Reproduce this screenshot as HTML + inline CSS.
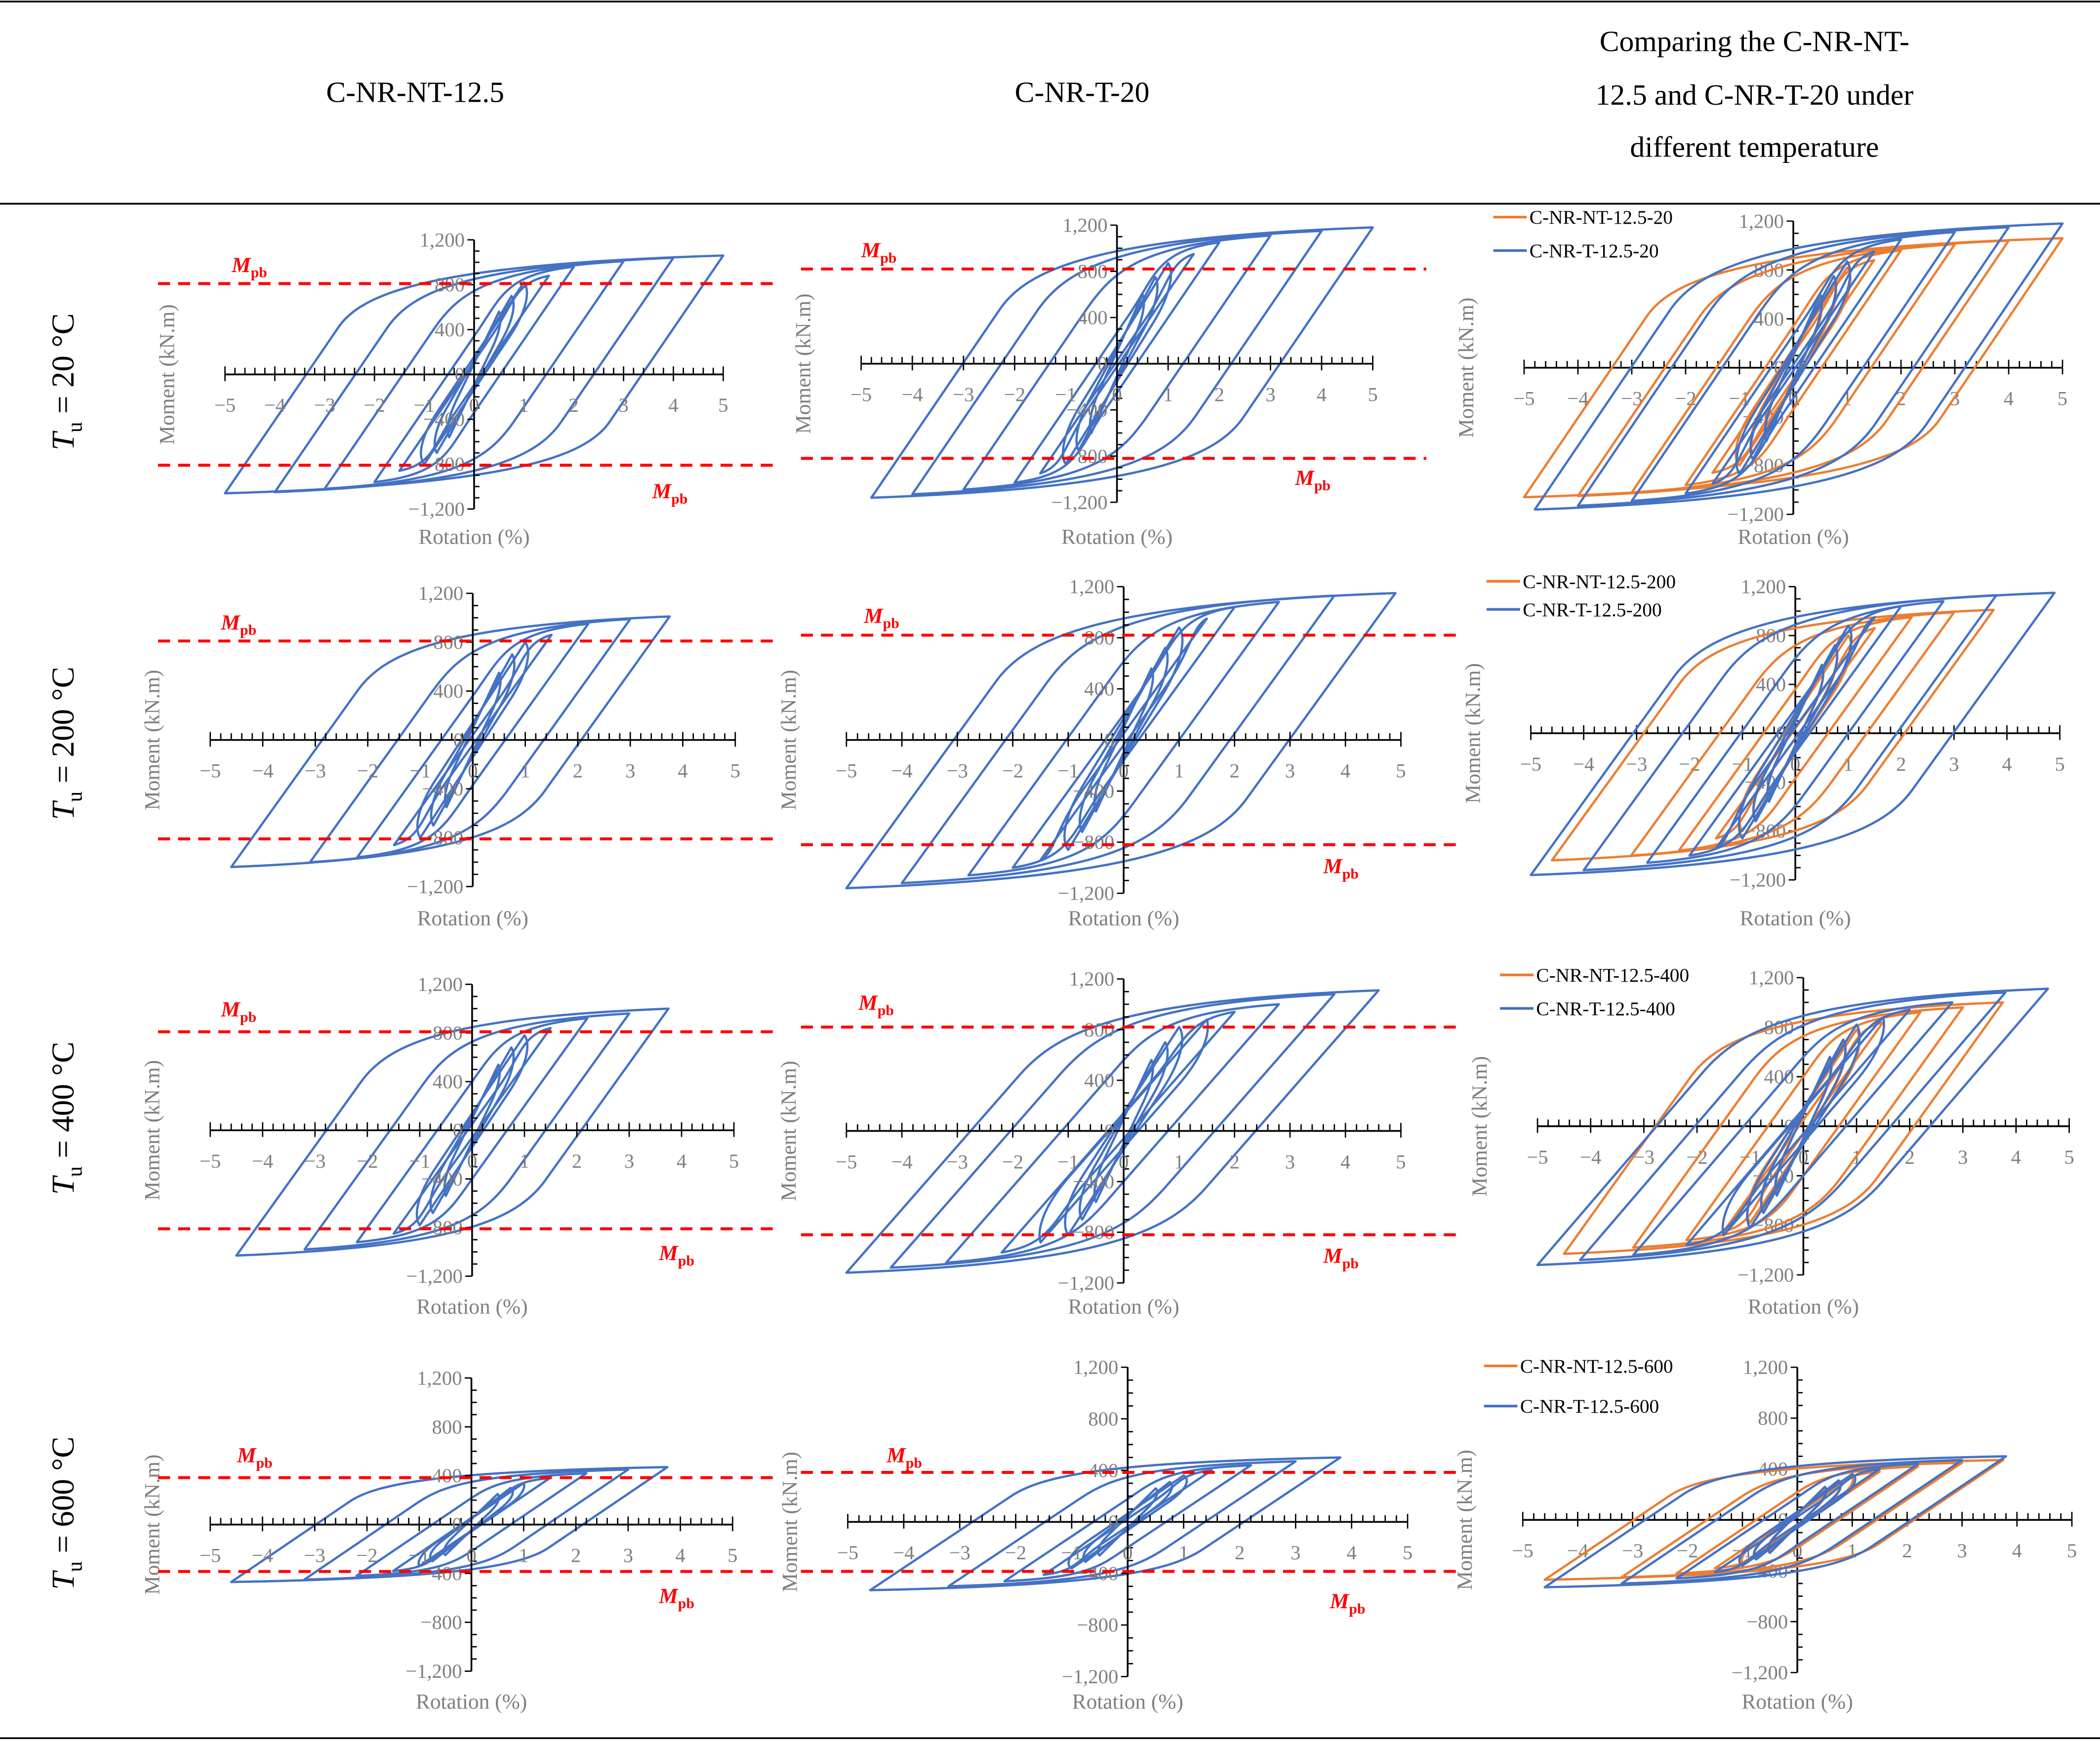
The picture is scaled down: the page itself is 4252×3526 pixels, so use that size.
<!DOCTYPE html>
<html><head><meta charset="utf-8"><title>Hysteresis comparison</title>
<style>
html,body{margin:0;padding:0;background:#fff;}
svg{display:block;}
svg text{font-family:"Liberation Serif",serif;}
</style></head>
<body>
<svg id="fig" xmlns="http://www.w3.org/2000/svg" width="4252" height="3526" viewBox="0 0 1568 1300" font-family="Liberation Serif, serif">
<rect x="0" y="0" width="1568" height="1300" fill="#fff"/>
<line x1="0" y1="1" x2="1568" y2="1" stroke="#000" stroke-width="1.3"/>
<line x1="0" y1="152" x2="1568" y2="152" stroke="#000" stroke-width="1.3"/>
<line x1="0" y1="1298" x2="1568" y2="1298" stroke="#000" stroke-width="1.3"/>
<text x="310" y="76" font-size="22" font-family="Liberation Serif, serif" text-anchor="middle">C-NR-NT-12.5</text>
<text x="808" y="76" font-size="22" font-family="Liberation Serif, serif" text-anchor="middle">C-NR-T-20</text>
<g font-family="Liberation Serif, serif">
<text x="1310" y="38" font-size="22" text-anchor="middle">Comparing the C-NR-NT-</text>
<text x="1310" y="78" font-size="22" text-anchor="middle">12.5 and C-NR-T-20 under</text>
<text x="1310" y="117" font-size="22" text-anchor="middle">different temperature</text>
</g>
<g id="rows"></g>
<g id="panels"></g>
</svg>
<script>
// ---- data (rotation %, moment kN.m) ----
const nt20AmpPos=[0.5,0.75,1,1.5,2,3,4,5];
const nt20Pos=[560,700,820,880,960,1010,1040,1060];
const nt20AmpNeg=[-0.5,-0.75,-1,-1.5,-2,-3,-4,-5];
const nt20Neg=[-560,-700,-800,-860,-960,-1020,-1050,-1060];
const t20AmpPos=[0.5,0.75,1,1.5,2,3,4,5];
const t20Pos=[600,750,870,950,1050,1110,1150,1180];
const t20AmpNeg=[-0.5,-0.75,-1,-1.5,-2,-3,-4,-4.8];
const t20Neg=[-600,-750,-870,-950,-1030,-1090,-1130,-1160];
const nt200AmpPos=[0.5,0.75,1,1.5,2.2,3,3.75];
const nt200Pos=[550,700,800,860,950,990,1010];
const nt200AmpNeg=[-0.5,-0.75,-1,-1.5,-2.2,-3.1,-4.6];
const nt200Neg=[-550,-700,-800,-860,-960,-1000,-1040];
const t200AmpPos=[0.5,0.75,1,1.5,2,2.8,3.8,4.9];
const t200Pos=[560,720,880,950,1040,1080,1130,1150];
const t200AmpNeg=[-0.5,-0.75,-1,-1.5,-2,-2.8,-4,-5];
const t200Neg=[-560,-720,-860,-940,-1000,-1060,-1120,-1160];
const nt400AmpPos=[0.5,0.75,1,1.5,2.2,3,3.75];
const nt400Pos=[540,680,780,840,920,960,1000];
const nt400AmpNeg=[-0.5,-0.75,-1,-1.5,-2.2,-3.2,-4.5];
const nt400Neg=[-540,-680,-780,-850,-920,-980,-1030];
const t400AmpPos=[0.5,0.75,1,1.5,2,2.8,3.8,4.6];
const t400Pos=[560,700,820,880,940,1000,1080,1110];
const t400AmpNeg=[-0.5,-0.75,-1,-1.5,-2.2,-3.2,-4.2,-5];
const t400Neg=[-560,-700,-820,-880,-960,-1040,-1080,-1120];
const nt600AmpPos=[0.5,0.75,1,1.5,2.2,3,3.75];
const nt600Pos=[250,300,340,380,420,450,470];
const nt600AmpNeg=[-0.5,-0.75,-1,-1.5,-2.2,-3.2,-4.6];
const nt600Neg=[-250,-300,-340,-380,-420,-450,-470];
const t600AmpPos=[0.5,0.75,1,1.5,2.2,3,3.8];
const t600Pos=[260,310,360,400,440,470,500];
const t600AmpNeg=[-0.5,-0.75,-1,-1.5,-2.2,-3.2,-4.6];
const t600Neg=[-260,-310,-360,-410,-460,-500,-530];
const stiffness=[650,650,600,600,600,500,290,290];
const mpbValues=[810,820,810,820,810,820,384,384];
const xTicks=[-5,-4,-3,-2,-1,0,1,2,3,4,5];
const yTicks=[-1200,-800,-400,0,400,800,1200];
const rowTemps=["20","200","400","600"];
const legendTemps=["20","200","400","600"];

const NS='http://www.w3.org/2000/svg';
function el(tag,attrs,parent){const e=document.createElementNS(NS,tag);for(const k in attrs)e.setAttribute(k,attrs[k]);if(tag==='text')e.setAttribute('font-family','Liberation Serif, serif');parent.appendChild(e);return e;}
const panelsG=document.getElementById('panels');
const rowsG=document.getElementById('rows');
const BLUE='#4472C4',ORANGE='#ED7D31',RED='#FF0000',GRAY='#7f7f7f';

const series=[
 [nt20AmpPos,nt20Pos,nt20AmpNeg,nt20Neg,stiffness[0]],
 [t20AmpPos,t20Pos,t20AmpNeg,t20Neg,stiffness[1]],
 [nt200AmpPos,nt200Pos,nt200AmpNeg,nt200Neg,stiffness[2]],
 [t200AmpPos,t200Pos,t200AmpNeg,t200Neg,stiffness[3]],
 [nt400AmpPos,nt400Pos,nt400AmpNeg,nt400Neg,stiffness[4]],
 [t400AmpPos,t400Pos,t400AmpNeg,t400Neg,stiffness[5]],
 [nt600AmpPos,nt600Pos,nt600AmpNeg,nt600Neg,stiffness[6]],
 [t600AmpPos,t600Pos,t600AmpNeg,t600Neg,stiffness[7]]
];
const geo=[
 [[168,540,179,380],[643,1025,168,375],[1138,1540,165,384]],
 [[157,549,443,662],[632,1046,438,667],[1143,1538,438,657]],
 [[157,548,735,953],[632,1046,731,958],[1148,1545,730,952]],
 [[157,547,1029,1248],[633,1051,1021,1252],[1137,1547,1021,1249]]
];
const mpbLabels=[
 [[[173,203],[487,372]],[[643,192],[967,362]]],
 [[[165,470]],[[645,465],[988,652]]],
 [[[165,759],[492,941]],[[641,754],[988,943]]],
 [[[177,1092],[492,1197]],[[662,1092],[993,1201]]]
];
const dashX=[[118,578],[598,1065]];
const legendPos=[[1115,162,187],[1110,434,455],[1120,728,753],[1108,1020,1050]];
const rowLabelY=[285,555,835,1130];
const rotLabelY=[406,691,981,1276];

function fmt(v){const s=Math.abs(v).toLocaleString('en-US');return (v<0?'\u2212':'')+s;}

function makeAxes(g,ax){
 const {X,Y}=ax;
 const xa=el('line',{x1:X(-5),y1:Y(0),x2:X(5),y2:Y(0),stroke:'#000','stroke-width':1.3},g);
 
 
 let d='';
 for(let i=-25;i<=25;i++){const x=X(i/5);if(i%5===0)d+=`M${x},${Y(0)-6}V${Y(0)+5}`;else d+=`M${x},${Y(0)-5}V${Y(0)}`;}
 const ya=el('line',{x1:X(0),y1:Y(1200),x2:X(0),y2:Y(-1200),stroke:'#000','stroke-width':1.3},g);
 
 
 for(let v=-1200;v<=1200;v+=100){const y=Y(v);if(v%400===0)d+=`M${X(0)-5},${y}H${X(0)}`;else d+=`M${X(0)},${y}H${X(0)+4}`;}
 const t=el('path',{d:d,stroke:'#000','stroke-width':1,fill:'none'},g);
 
 
 xTicks.forEach(v=>{const tx=el('text',{x:X(v),y:Y(0)+28,'font-size':15,fill:GRAY,'text-anchor':'middle'},g);tx.textContent=fmt(v);
  
  });
 yTicks.forEach(v=>{const ty=el('text',{x:X(0)-7,y:Y(v)+5,'font-size':15,fill:GRAY,'text-anchor':'end'},g);ty.textContent=fmt(v);
  
  });
}

function loopD(ax,aP,mP,aN,mN,K){
 const {X,Y}=ax;
 const Ke=Math.max(K,(0.4*mP-mN)/(0.85*(aP-aN)));
 const y1=0.4*mP, x1=aN+(y1-mN)/Ke;
 const c1x=x1+0.55*(mP-y1)/Ke, c1y=y1+0.55*(mP-y1);
 const c2x=Math.max(c1x,x1+0.3*(aP-x1)), c2y=mP*0.93;
 const y2=0.4*mN, x2=aP+(y2-mP)/Ke;
 const c3x=x2+0.55*(mN-y2)/Ke, c3y=y2+0.55*(mN-y2);
 const c4x=Math.min(c3x,x2+0.3*(aN-x2)), c4y=mN*0.93;
 const p=(x,y)=>X(x).toFixed(1)+','+Y(y).toFixed(1);
 return `M${p(aN,mN)}L${p(x1,y1)}C${p(c1x,c1y)} ${p(c2x,c2y)} ${p(aP,mP)}L${p(x2,y2)}C${p(c3x,c3y)} ${p(c4x,c4y)} ${p(aN,mN)}Z`;
}

function drawSeries(g,ax,s,color,name){
 const [ap,mp,an,mn,K]=s;
 const sg=el('g',{},g);
 
 
 for(let i=0;i<ap.length;i++){
  const path=el('path',{d:loopD(ax,ap[i],mp[i],an[i],mn[i],K),fill:'none',stroke:color,'stroke-width':1.7,'stroke-linejoin':'round'},sg);
  
  
 }
}

function mpbText(g,x,y){
 const t=el('text',{x:x,y:y,'font-size':16,fill:RED,'font-weight':'bold','font-style':'italic','text-anchor':'start'},g);
 
 
 t.innerHTML='M<tspan font-size="11" font-style="normal" dy="4">pb</tspan>';
}

for(let r=0;r<4;r++){
 const rl=el('text',{transform:`translate(55,${rowLabelY[r]}) rotate(-90)`,'font-size':24,'text-anchor':'middle'},rowsG);
 
 
 rl.innerHTML=`<tspan font-style="italic">T</tspan><tspan font-size="16" dy="6">u</tspan><tspan dy="-6"> = ${rowTemps[r]} °C</tspan>`;
 for(let c=0;c<3;c++){
  const [xl,xr,yt,yb]=geo[r][c];
  const ox=(xl+xr)/2, xs=(xr-xl)/10, oy=(yt+yb)/2, ys=(yb-yt)/2400;
  const ax={X:v=>ox+v*xs,Y:v=>oy-v*ys};
  const g=el('g',{},panelsG);
  
  
  const ml=el('text',{transform:`translate(${xl-38},${oy}) rotate(-90)`,'font-size':16,fill:GRAY,'text-anchor':'middle'},g);
  ml.textContent='Moment (kN.m)';
  
  
  const rt=el('text',{x:ox,y:rotLabelY[r],'font-size':16,fill:GRAY,'text-anchor':'middle'},g);
  rt.textContent='Rotation (%)';
  
  
  if(c<2){
   const s=series[r*2+c];
   drawSeries(g,ax,s,BLUE,'series-'+(c===0?'nt':'t'));
   makeAxes(g,ax);
   const mv=mpbValues[r*2+c];
   [mv,-mv].forEach(v=>{const l=el('line',{x1:dashX[c][0],x2:r===0?dashX[c][1]:(c===0?580:1090),y1:ax.Y(v),y2:ax.Y(v),stroke:RED,'stroke-width':2.2,'stroke-dasharray':'9,6'},g);
    
    });
   mpbLabels[r][c].forEach(p=>mpbText(g,p[0],p[1]));
  } else {
   makeAxes(g,ax);
   drawSeries(g,ax,series[r*2],ORANGE,'series-nt-compare');
   drawSeries(g,ax,series[r*2+1],BLUE,'series-t-compare');
   const [lx,ly1,ly2]=legendPos[r];
   [[ly1,ORANGE,'C-NR-NT-12.5-'+legendTemps[r]],[ly2,BLUE,'C-NR-T-12.5-'+legendTemps[r]]].forEach(e=>{
    const lg=el('g',{},g);
    
    
    el('line',{x1:lx,x2:lx+25,y1:e[0],y2:e[0],stroke:e[1],'stroke-width':2},lg);
    const t=el('text',{x:lx+27,y:e[0]+5,'font-size':14.5},lg);t.textContent=e[2];
   });
  }
 }
}
</script>
</body></html>
